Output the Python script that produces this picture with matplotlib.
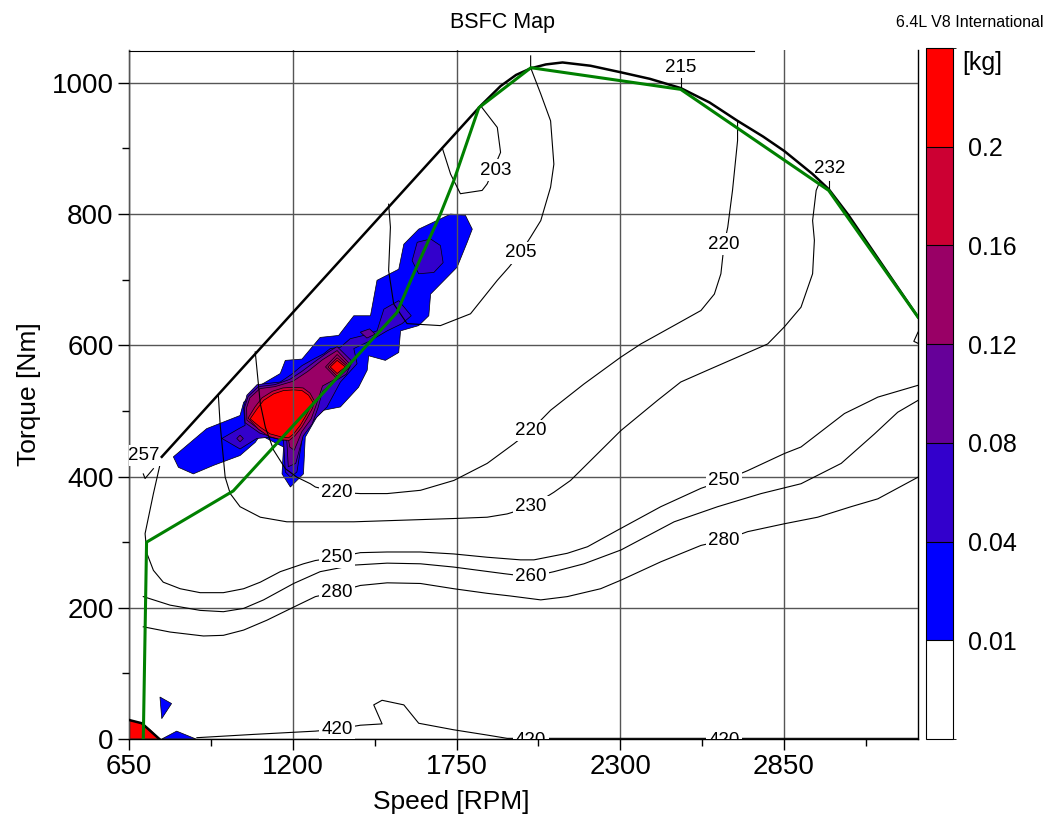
import matplotlib
matplotlib.use('Agg')
import matplotlib.pyplot as plt
import matplotlib.cm as cm
from matplotlib.colors import ListedColormap, BoundaryNorm

plt.rcParams['font.family'] = ['Liberation Sans', 'DejaVu Sans']

# ---- BSFC contour lines, points as (speed rpm, torque Nm)
bsfc_203 = [(1702, 901), (1730, 861), (1763, 831), (1836, 836), (1853, 846), (1898, 894),
            (1887, 932), (1831, 965)]
bsfc_205 = [(1522, 815), (1528, 780), (1522, 714), (1539, 663), (1584, 633), (1696, 630),
            (1797, 648), (1887, 699), (1926, 719), (1965, 741), (1999, 765), (2033, 790),
            (2066, 841), (2077, 876), (2066, 942), (2033, 983), (1999, 1023), (1999, 1041)]
bsfc_215 = [(2503, 993), (2503, 1008)]
bsfc_220 = [(2694, 942), (2694, 912), (2677, 836), (2661, 780), (2649, 754), (2644, 734),
            (2638, 709), (2616, 678), (2571, 653), (2492, 633), (2369, 602), (2302, 582),
            (2178, 541), (2066, 501), (1999, 470), (1943, 450), (1898, 435), (1853, 420),
            (1741, 394), (1629, 379), (1517, 374), (1427, 374), (1349, 376), (1276, 384),
            (1259, 389), (1214, 399), (1175, 412), (1136, 440), (1108, 475), (1091, 511),
            (1080, 562), (1074, 590)]
bsfc_230 = [(2969, 848), (2958, 836), (2946, 790), (2952, 760), (2946, 709), (2907, 658),
            (2851, 628), (2795, 602), (2593, 562), (2503, 544), (2425, 516), (2302, 470),
            (2133, 394), (2077, 376), (1999, 354), (1920, 343), (1853, 338), (1741, 336),
            (1405, 331), (1180, 331), (1091, 338), (1023, 354), (990, 374), (973, 399),
            (956, 480), (950, 525)]
bsfc_232 = [(3002, 836), (3002, 851)]
bsfc_250 = [(760, 430), (732, 374), (704, 313), (710, 283), (732, 257), (765, 239), (822, 229),
            (889, 223), (967, 223), (1035, 229), (1091, 239), (1158, 255), (1236, 267),
            (1276, 272), (1349, 277), (1427, 284), (1517, 285), (1629, 285), (1741, 282),
            (1853, 277), (1965, 273), (2010, 273), (2122, 283), (2190, 293), (2290, 318),
            (2436, 354), (2571, 382), (2649, 394), (2728, 409), (2851, 435), (2907, 445),
            (3053, 496), (3143, 516), (3165, 521), (3300, 539)]
bsfc_257 = [(698, 404), (704, 397), (732, 412)]
bsfc_260 = [(698, 217), (788, 204), (889, 196), (967, 194), (1035, 199), (1102, 212),
            (1203, 237), (1292, 255), (1405, 265), (1517, 268), (1629, 267), (1741, 262),
            (1909, 252), (1999, 247), (2077, 255), (2178, 267), (2302, 288), (2481, 331),
            (2627, 354), (2773, 374), (2907, 389), (3042, 420), (3154, 465), (3232, 498),
            (3300, 516)]
bsfc_280 = [(698, 171), (788, 163), (900, 157), (967, 158), (1035, 166), (1113, 181),
            (1203, 201), (1276, 217), (1349, 224), (1427, 234), (1517, 238), (1629, 237),
            (1741, 229), (1853, 222), (1930, 218), (2033, 212), (2122, 217), (2234, 229),
            (2302, 242), (2436, 270), (2571, 295), (2649, 303), (2728, 316), (2851, 328),
            (2963, 338), (3075, 354), (3165, 366), (3300, 399)]
bsfc_420 = [(878, 2), (1068, 7), (1276, 12), (1349, 15), (1427, 21), (1500, 23), (1472, 52),
            (1500, 59), (1573, 52), (1623, 24), (1741, 14), (1853, 6), (1920, 1), (3300, 1)]
bsfc_edge = [(3300, 620), (3286, 606), (3300, 603)]
top_line = [(650, 1049), (2750, 1049)]

# contour labels: text, speed, torque
label_txt = ['203', '205', '215', '220', '220', '220', '230', '232', '250', '250',
             '257', '260', '280', '280', '420', '420', '420']
label_rpm = [1881, 1965, 2503, 2649, 1999, 1349, 1999, 3002, 1349, 2649,
             700, 1999, 1349, 2649, 1349, 1999, 2649]
label_nm = [867, 741, 1023, 754, 470, 376, 354, 869, 277, 394,
            432, 247, 224, 303, 15, -2, -2]

# full-load curve and the green operating line
full_load = [(760, 430), (1831, 965), (1898, 995), (1950, 1012), (1999, 1022), (2050, 1028),
             (2106, 1031), (2200, 1026), (2302, 1016), (2400, 1006), (2503, 992), (2600, 970),
             (2694, 942), (2780, 918), (2851, 896), (2946, 861), (3000, 838), (3064, 800),
             (3300, 643)]
motoring = [(650, 29), (693, 24), (752, 0)]
green_line = [(698, 0), (709, 300), (1000, 378), (1550, 650), (1606, 709), (1696, 800),
              (1741, 851), (1825, 962), (2000, 1023), (2503, 990), (3000, 836), (3300, 643)]

# ---- fuel mass regions [kg]
fuel_blue = [(799, 430), (911, 473), (1023, 493), (1035, 513), (1079, 536), (1158, 557),
             (1175, 577), (1231, 579), (1292, 612), (1354, 615), (1405, 645), (1461, 645),
             (1483, 699), (1556, 716), (1573, 754), (1623, 777), (1730, 800), (1780, 798),
             (1803, 777), (1786, 757), (1752, 719), (1663, 678), (1657, 645), (1623, 630),
             (1562, 622), (1556, 589), (1511, 577), (1455, 584), (1450, 562), (1421, 536),
             (1360, 506), (1304, 501), (1281, 491), (1242, 460), (1236, 404), (1192, 384),
             (1164, 404), (1169, 445), (1091, 463), (1074, 452), (1023, 432), (934, 417),
             (866, 404), (816, 414)]
fuel_blue_tri = [(754, 64), (793, 54), (760, 31)]
fuel_blue_bump = [(760, 0), (810, 12), (875, 0)]
fuel_04 = [(962, 458), (1023, 474), (1040, 478), (1035, 505), (1046, 524), (1080, 540),
           (1158, 544), (1197, 556), (1231, 569), (1270, 579), (1304, 587), (1326, 595),
           (1360, 597), (1393, 610), (1438, 615), (1483, 622), (1506, 655), (1556, 668),
           (1598, 645), (1567, 633), (1517, 622), (1461, 607), (1405, 595), (1416, 572),
           (1360, 544), (1315, 506), (1236, 470), (1214, 407), (1192, 399), (1175, 407),
           (1169, 455), (1124, 460), (1079, 458), (1023, 442)]
fuel_04_hex = [(1618, 757), (1663, 762), (1696, 752), (1705, 726), (1674, 711), (1623, 709),
               (1601, 729)]
fuel_08 = [(1040, 482), (1038, 505), (1050, 522), (1085, 537), (1140, 540), (1190, 548),
           (1230, 560), (1280, 577), (1320, 590), (1349, 598), (1400, 575), (1380, 556),
           (1340, 545), (1300, 530), (1285, 505), (1265, 480), (1235, 462), (1210, 420),
           (1185, 415), (1180, 455), (1150, 458), (1090, 466)]
fuel_08_dot = [(1427, 620), (1458, 625), (1477, 617), (1449, 611)]
fuel_08_left = [(1012, 458), (1023, 463), (1034, 458), (1023, 453)]
fuel_12 = [(1046, 486), (1045, 505), (1056, 520), (1090, 534), (1140, 537), (1200, 545),
           (1250, 560), (1300, 578), (1349, 592), (1390, 572), (1349, 550), (1300, 538),
           (1278, 508), (1262, 488), (1230, 468), (1205, 440), (1190, 445), (1185, 458),
           (1150, 461), (1095, 469)]
fuel_16 = [(1050, 489), (1073, 506), (1097, 520), (1132, 530), (1167, 535), (1203, 536),
           (1235, 535), (1258, 527), (1274, 514), (1265, 503), (1248, 489), (1230, 475),
           (1207, 462), (1188, 455), (1162, 456), (1120, 461), (1085, 472)]
fuel_20 = [(1057, 488), (1080, 503), (1102, 516), (1136, 526), (1169, 531), (1203, 532),
           (1231, 531), (1253, 524), (1268, 513), (1259, 505), (1242, 491), (1225, 478),
           (1203, 465), (1186, 459), (1164, 460), (1124, 465), (1091, 475)]
dia_12 = [(1310, 567), (1349, 586), (1392, 567), (1349, 549)]
dia_16 = [(1318, 567), (1349, 581), (1385, 567), (1349, 553)]
dia_20 = [(1326, 567), (1349, 577), (1377, 567), (1349, 557)]
fuel_idle = [(650, 0), (650, 29), (693, 24), (721, 14), (752, 0)]

level_bounds = [0, 0.01, 0.04, 0.08, 0.12, 0.16, 0.2, 0.24]
level_colors = ['#ffffff', '#0000ff', '#3300cc', '#660099', '#990066', '#cc0033', '#ff0000']

fig = plt.figure(figsize=(10.47, 8.16), dpi=100)
ax = fig.add_axes([129 / 1047, 77 / 816, 789 / 1047, 689 / 816])
cax = fig.add_axes([926 / 1047, 77 / 816, 27 / 1047, 691 / 816])

# filled fuel regions
regions = [(fuel_blue, 1), (fuel_blue_tri, 1), (fuel_blue_bump, 1), (fuel_04, 2),
           (fuel_04_hex, 2), (fuel_08, 3), (fuel_08_dot, 3), (fuel_08_left, 3),
           (fuel_12, 4), (fuel_16, 5), (fuel_20, 6), (dia_12, 4), (dia_16, 5), (dia_20, 6),
           (fuel_idle, 6)]
for poly, lev in regions:
    xs, ys = zip(*poly)
    ax.fill(xs, ys, facecolor=level_colors[lev], edgecolor='black', linewidth=0.5, zorder=1)

# BSFC lines
for line in [bsfc_203, bsfc_205, bsfc_215, bsfc_220, bsfc_230, bsfc_232, bsfc_250,
             bsfc_257, bsfc_260, bsfc_280, bsfc_420, bsfc_edge, top_line]:
    xs, ys = zip(*line)
    ax.plot(xs, ys, color='black', linewidth=0.8, zorder=3, clip_on=False)

for t, x, y in zip(label_txt, label_rpm, label_nm):
    ax.text(x, y, t, fontsize=13.5, ha='center', va='center', zorder=4, clip_on=True,
            bbox=dict(boxstyle='square,pad=0.12', fc='white', ec='none'))

xs, ys = zip(*full_load)
ax.plot(xs, ys, color='black', linewidth=1.8, zorder=5)
xs, ys = zip(*motoring)
ax.plot(xs, ys, color='black', linewidth=1.8, zorder=5)
xs, ys = zip(*green_line)
ax.plot(xs, ys, color='#008000', linewidth=2.2, zorder=6)

ax.set_xlim(650, 3300)
ax.set_ylim(0, 1050)
ax.set_xticks([650, 1200, 1750, 2300, 2850])
ax.set_xticks([925, 1475, 2025, 2575, 3125], minor=True)
ax.set_yticks([0, 200, 400, 600, 800, 1000])
ax.set_yticks([100, 300, 500, 700, 900], minor=True)
ax.tick_params(which='major', direction='out', length=8, width=1, labelsize=20, pad=3)
ax.tick_params(which='minor', direction='out', length=5, width=1)
ax.grid(True, which='major', color='#555555', linewidth=1.0)
ax.set_axisbelow(False)
ax.spines['top'].set_visible(False)
for s in ['left', 'bottom', 'right']:
    ax.spines[s].set_linewidth(1.0)

fig.text(451 / 1047, 1 - 802 / 816, 'Speed [RPM]', fontsize=19, ha='center', va='center')
fig.text(29 / 1047, 1 - 394 / 816, 'Torque [Nm]', fontsize=19, rotation=90,
         ha='center', va='center')
fig.text(503 / 1047, 1 - 28 / 816, 'BSFC Map', fontsize=15.5, ha='center', va='baseline')
fig.text(1043 / 1047, 1 - 27 / 816, '6.4L V8 International', fontsize=11.5,
         ha='right', va='baseline')

# colour bar
cmap = ListedColormap(level_colors)
norm = BoundaryNorm(level_bounds, cmap.N)
cb = fig.colorbar(cm.ScalarMappable(norm=norm, cmap=cmap), cax=cax, spacing='uniform',
                  ticks=level_bounds[1:-1], drawedges=True)
cb.ax.set_yticklabels(['0.01', '0.04', '0.08', '0.12', '0.16', '0.2'])
cb.ax.tick_params(length=0, labelsize=18, pad=11)
cb.outline.set_linewidth(0.8)
cb.dividers.set_linewidth(0.8)
cax.text(1.33, 0.978, '[kg]', transform=cax.transAxes, fontsize=18, ha='left', va='center')

fig.savefig('out.png', dpi=100)
